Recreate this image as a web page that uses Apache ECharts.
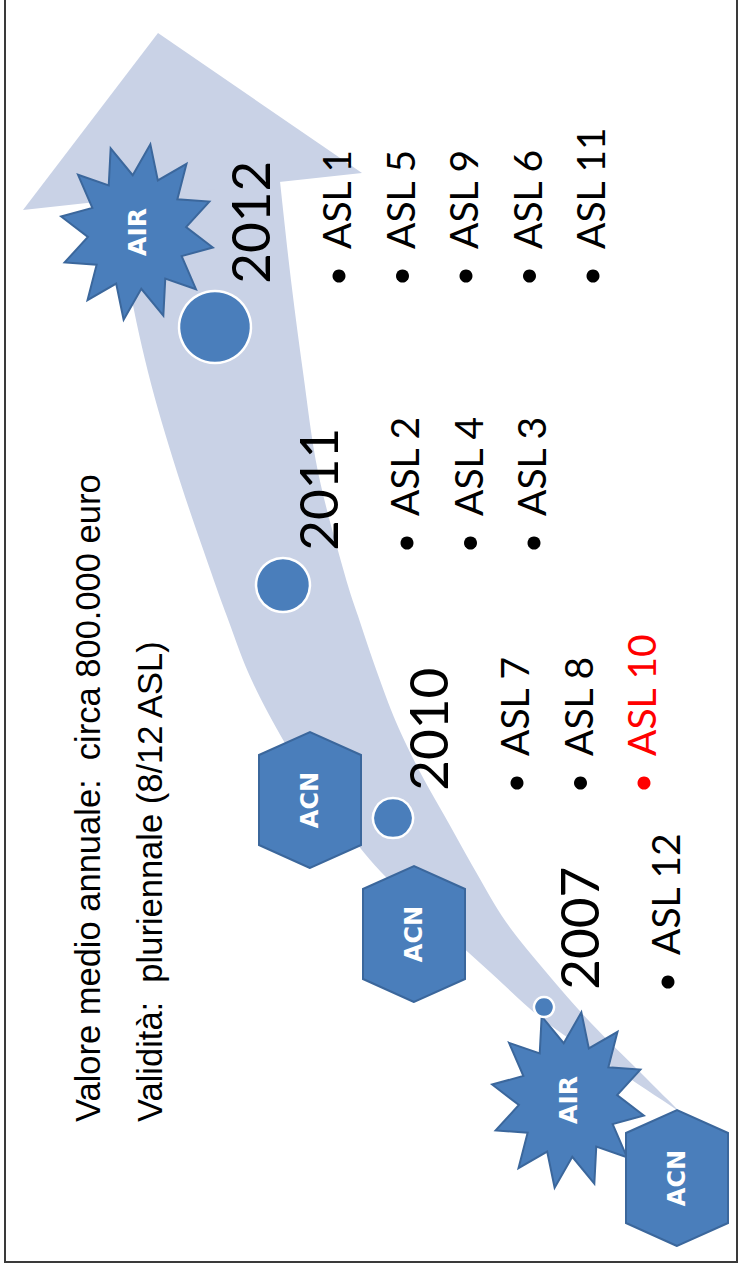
<!DOCTYPE html>
<html lang="it">
<head>
<meta charset="utf-8">
<title>ASL timeline</title>
<script src="https://cdn.jsdelivr.net/npm/echarts@6/dist/echarts.min.js"></script>
<style>
html, body { margin:0; padding:0; background:#fff; width:741px; height:1272px; overflow:hidden; }
#chart { position:absolute; left:0; top:0; width:1272px; height:741px;
  transform-origin:0 0; transform: translate(0px, 1272px) rotate(-90deg); }
</style>
</head>
<body>
<div id="chart"></div>
<script>
// ---- data (landscape slide units, the slide is shown rotated) ----
const years = ['2007', '2010', '2011', '2012'];
const yearPosX = [265, 454, 687, 945];
const yearPosY = [544, 393, 283, 215];
const yearCircleRadius = [11, 21, 28, 37];
const aslLists = [
  ['ASL 12'],
  ['ASL 7', 'ASL 8', 'ASL 10'],
  ['ASL 2', 'ASL 4', 'ASL 3'],
  ['ASL 1', 'ASL 5', 'ASL 9', 'ASL 6', 'ASL 11']
];
const aslHighlighted = ['ASL 10'];

const acnLabel = 'ACN';
const acnPosX = [94, 338, 472];
const acnPosY = [677, 414, 310];

const airLabel = 'AIR';
const airPosX = [172, 1040];
const airPosY = [568, 137];

const bandX       = [160, 200, 250, 300, 350, 400, 450, 500, 550, 600, 650, 700, 800, 900, 1000, 1100];
const bandTopY    = [680, 620, 546, 490, 435, 381, 340, 303, 273, 248, 229, 211, 177, 148, 127, 115];
const bandBottomY = [680, 640, 590, 546, 506, 476, 448, 420, 396, 377, 360, 344, 318, 303, 290, 279];
const arrowHeadX = [1062, 1239, 1099];
const arrowHeadY = [23, 158, 362];

const noteLines = [
  'Valore medio annuale:  circa 800.000 euro',
  'Validità:  pluriennale (8/12 ASL)'
];

// ---- styles ----
const BLUE = '#4a7ebb';
const BLUE_EDGE = '#3b679c';
const BAND = '#c9d2e6';

function catmull(pts, n) {
  const out = [];
  for (let i = 0; i < pts.length - 1; i++) {
    const p0 = pts[Math.max(i - 1, 0)], p1 = pts[i], p2 = pts[i + 1], p3 = pts[Math.min(i + 2, pts.length - 1)];
    for (let t = 0; t < n; t++) {
      const s = t / n, s2 = s * s, s3 = s2 * s;
      const f = k => 0.5 * ((2 * p1[k]) + (-p0[k] + p2[k]) * s + (2 * p0[k] - 5 * p1[k] + 4 * p2[k] - p3[k]) * s2 + (-p0[k] + 3 * p1[k] - 3 * p2[k] + p3[k]) * s3);
      out.push([f(0), f(1)]);
    }
  }
  out.push(pts[pts.length - 1]);
  return out;
}

const chart = echarts.init(document.getElementById('chart'), null, { renderer: 'svg' });

const circleData = years.map((y, i) => [yearPosX[i], yearPosY[i], yearCircleRadius[i], i]);

const option = {
  animation: false,
  backgroundColor: '#ffffff',
  grid: { left: 0, right: 0, top: 0, bottom: 0 },
  xAxis: { type: 'value', min: 0, max: 1272, show: false },
  yAxis: { type: 'value', min: 0, max: 741, inverse: true, show: false },
  graphic: [
    { type: 'rect', silent: true, z: 100,
      shape: { x: 10, y: 5, width: 1300, height: 732 },
      style: { fill: 'none', stroke: '#3a3a3a', lineWidth: 2 } },
    ...noteLines.map((t, i) => ({
      type: 'text', silent: true, x: 150, y: 88 + i * 62,
      style: { text: t, font: '34.5px "Liberation Sans", Arial, sans-serif', fill: '#000',
               verticalAlign: 'middle', textVerticalAlign: 'middle' }
    }))
  ],
  series: [
    { // curved arrow band
      type: 'custom', silent: true, z: 1,
      data: [[0, 0]],
      renderItem: function (params, api) {
        const top = bandX.map((x, i) => api.coord([x, bandTopY[i]]));
        const bot = bandX.map((x, i) => api.coord([x, bandBottomY[i]]));
        const pts = catmull(bot, 8).concat(catmull(top, 8).reverse());
        const head = arrowHeadX.map((x, i) => api.coord([x, arrowHeadY[i]]));
        return { type: 'group', children: [
          { type: 'polygon', shape: { points: pts }, style: { fill: BAND } },
          { type: 'polygon', shape: { points: head }, style: { fill: BAND } }
        ] };
      }
    },
    { // AIR stars
      type: 'custom', silent: true, z: 2,
      data: airPosX.map((x, i) => [x, airPosY[i]]),
      renderItem: function (params, api) {
        const c = api.coord([api.value(0), api.value(1)]);
        const pts = [];
        const rx = 89, ry = 77, inner = 0.64;
        for (let k = 0; k < 24; k++) {
          const a = (10 + k * 15) * Math.PI / 180;
          const r = k % 2 === 0 ? 1 : inner;
          pts.push([c[0] + rx * r * Math.cos(a), c[1] + ry * r * Math.sin(a)]);
        }
        return { type: 'group', children: [
          { type: 'polygon', shape: { points: pts }, style: { fill: BLUE, stroke: BLUE_EDGE, lineWidth: 2 } },
          { type: 'text', x: c[0], y: c[1],
            style: { text: airLabel, font: 'bold 25px "DejaVu Sans", sans-serif', fill: '#fff',
                     align: 'center', verticalAlign: 'middle', textAlign: 'center', textVerticalAlign: 'middle' } }
        ] };
      }
    },
    { // ACN hexagons
      type: 'custom', silent: true, z: 3,
      data: acnPosX.map((x, i) => [x, acnPosY[i]]),
      renderItem: function (params, api) {
        const c = api.coord([api.value(0), api.value(1)]);
        const hw = 68, hh = 51, ins = 23;
        const pts = [[c[0] - hw, c[1]], [c[0] - hw + ins, c[1] - hh], [c[0] + hw - ins, c[1] - hh],
                     [c[0] + hw, c[1]], [c[0] + hw - ins, c[1] + hh], [c[0] - hw + ins, c[1] + hh]];
        return { type: 'group', children: [
          { type: 'polygon', shape: { points: pts }, style: { fill: BLUE, stroke: BLUE_EDGE, lineWidth: 2 } },
          { type: 'text', x: c[0], y: c[1],
            style: { text: acnLabel, font: 'bold 24px "DejaVu Sans", sans-serif', fill: '#fff',
                     align: 'center', verticalAlign: 'middle', textAlign: 'center', textVerticalAlign: 'middle' } }
        ] };
      }
    },
    { // year circles with labels
      type: 'scatter', silent: true, z: 4,
      data: circleData,
      symbol: 'circle',
      symbolSize: v => v[2] * 2 - 2,
      itemStyle: { color: BLUE, borderColor: '#ffffff', borderWidth: 2.5, opacity: 1 },
      label: {
        show: true, position: 'right', distance: 6, offset: [0, 34],
        formatter: p => years[p.dataIndex],
        fontSize: 53, fontFamily: 'Lato, sans-serif', color: '#000'
      }
    },
    { // ASL bullet lists
      type: 'custom', silent: true, z: 5,
      data: circleData,
      renderItem: function (params, api) {
        const idx = api.value(3);
        const c = api.coord([api.value(0), api.value(1)]);
        const r = api.value(2);
        const bx = c[0] + r + 14;
        const children = [];
        aslLists[idx].forEach((name, j) => {
          const base = c[1] + 136 + j * 63.5;
          const col = aslHighlighted.indexOf(name) >= 0 ? '#ff0000' : '#000000';
          children.push({ type: 'circle', shape: { cx: bx, cy: base - 12, r: 6.5 }, style: { fill: col } });
          children.push({ type: 'text', x: bx + 27, y: base - 15,
            style: { text: name, font: '39px Lato, sans-serif', fill: col,
                     verticalAlign: 'middle', textVerticalAlign: 'middle' } });
        });
        return { type: 'group', children: children };
      }
    }
  ]
};
chart.setOption(option);
</script>
</body>
</html>
